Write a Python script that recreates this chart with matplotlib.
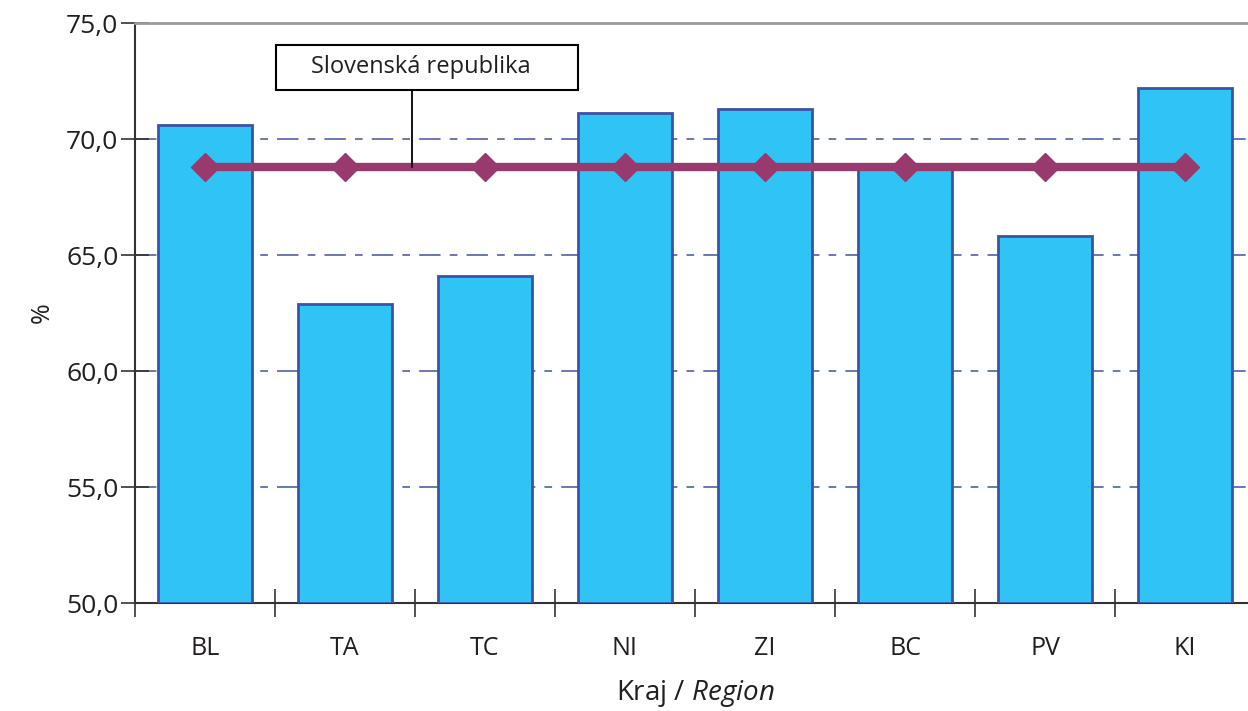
import numpy as np
import matplotlib.pyplot as plt
from matplotlib.patches import Rectangle

plt.rcParams['font.family'] = ['Open Sans', 'DejaVu Sans']
plt.rcParams['mathtext.fontset'] = 'custom'
plt.rcParams['mathtext.it'] = 'Open Sans:italic'
plt.rcParams['mathtext.rm'] = 'Open Sans'

regions = ['BL', 'TA', 'TC', 'NI', 'ZI', 'BC', 'PV', 'KI']
values = [70.6, 62.9, 64.1, 71.1, 71.3, 68.7, 65.8, 72.2]
sr_value = 68.8
yticks = [50, 55, 60, 65, 70, 75]

bar_color = '#2FC4F4'
edge_color = '#3D52A5'
line_color = '#983A6E'
text_color = '#231F20'

fig = plt.figure(figsize=(12.48, 7.11), dpi=100)
ax = fig.add_axes([135 / 1248, 1 - 603 / 711, 1120 / 1248, 580 / 711])

x = np.arange(len(regions))
ax.bar(x, [v - 50 for v in values], bottom=50, width=0.67, color=bar_color,
       edgecolor=edge_color, linewidth=2, zorder=3)
ax.plot(x, [sr_value] * len(x), color=line_color, linewidth=6,
        marker='D', markersize=14, zorder=4)

ax.set_xlim(-0.5, len(regions) - 0.5)
ax.set_ylim(50, 75)

for y in yticks[1:-1]:
    ax.axhline(y, color=edge_color, linewidth=1.1, dashes=(14, 6, 5, 6), zorder=1)

ax.set_yticks(yticks)
ax.set_yticklabels([f'{t:.1f}'.replace('.', ',') for t in yticks], fontsize=19,
                   color=text_color)
ax.set_xticks(x)
ax.set_xticklabels(regions, fontsize=18, color=text_color)
ax.set_xticks(np.arange(-0.5, len(regions)), minor=True)
ax.tick_params(axis='x', which='major', length=0, pad=24)
ax.tick_params(axis='x', which='minor', length=20, direction='inout', width=1.2,
               color='#333333')
ax.tick_params(axis='y', length=20, direction='inout', width=1.2, color='#333333',
               pad=2)

ax.spines['right'].set_visible(False)
ax.spines['top'].set_color('#9a9a9a')
ax.spines['top'].set_linewidth(2)
ax.spines['left'].set_color('#333333')
ax.spines['left'].set_linewidth(1.5)
ax.spines['bottom'].set_color('#333333')
ax.spines['bottom'].set_linewidth(1.5)

ax.set_ylabel('%', fontsize=18, color=text_color, labelpad=8)
ax.set_xlabel(r'Kraj / $\it{Region}$', fontsize=20, color=text_color, labelpad=12)

# label box with a leader line to the SR line
ax.plot([1.479, 1.479], [sr_value, 72.1], color='black', lw=1.3, zorder=5)
ax.add_patch(Rectangle((0.507, 72.1), 2.157, 1.95, fc='white', ec='black',
                       lw=1.5, zorder=6))
ax.text(1.54, 73.1, 'Slovenská republika', ha='center', va='center',
        fontsize=17, color=text_color, zorder=7)

fig.savefig('out.png', dpi=100)
